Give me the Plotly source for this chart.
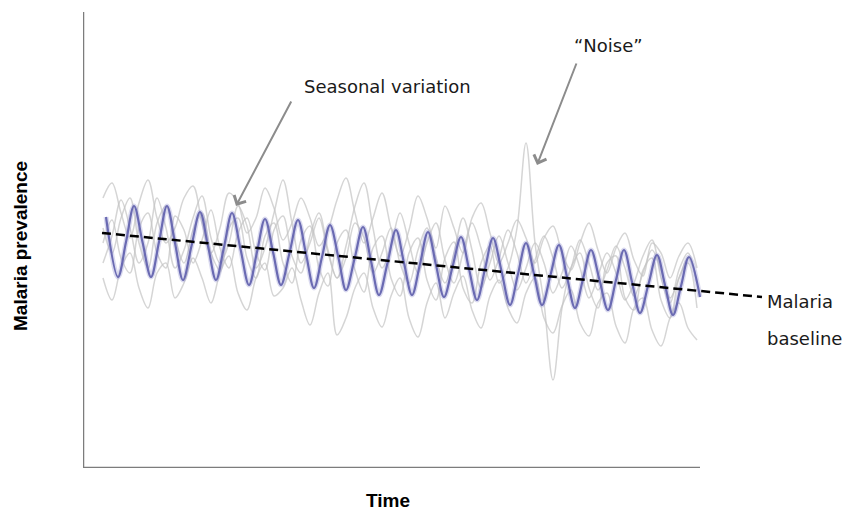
import plotly.graph_objects as go

# ---------------- data (arbitrary units: time, prevalence) ----------------
SEASON_T = [23, 35, 43, 51, 59.5, 68, 76, 84, 92, 100, 108.5, 117, 125, 133, 141, 149,
            157.5, 166, 174, 182, 190, 198, 206.5, 215, 223, 231, 239, 247, 255.5, 263,
            271.5, 280, 288, 296, 304.5, 313, 321, 329, 337, 345, 353, 361, 369.5, 378,
            386, 394, 402, 410, 418.5, 427, 435, 443, 451, 459, 467.5, 476, 484, 492,
            500, 508, 516.5, 525, 533, 541, 549, 557, 565.5, 574, 582, 590, 598, 606, 617]
SEASON_V = [251, 191, 226, 262, 226, 191, 226, 262, 225, 188, 222, 256, 222, 188, 221, 255,
            219, 183, 216, 249, 216, 183, 215, 248, 214, 180, 211, 243, 210, 178,
            209, 241, 207, 173, 205, 238, 205, 173, 204, 236, 203, 171, 201, 231,
            199, 168, 199, 230, 197, 163, 194, 225, 194, 163, 193, 223, 191, 160,
            189, 218, 188, 158, 188, 218, 186, 155, 184, 213, 183, 153, 182, 211, 171]

NOISE_T = [20, 29, 38, 47, 56, 65, 74, 83, 92, 101, 110, 119, 128, 137, 146, 155, 164, 173,
           182, 191, 200, 209, 218, 227, 236, 245, 254, 263, 272, 281, 290, 299, 308, 317,
           326, 335, 344, 353, 362, 371, 380, 389, 398, 407, 416, 425, 434, 443, 452, 461,
           470, 479, 488, 497, 506, 515, 524, 533, 542, 551, 560, 569, 578, 587, 596, 605, 614]
NOISE_A = [240, 215, 250, 270, 225, 200, 245, 262, 230, 205, 238, 255, 215, 198, 240, 250,
           210, 190, 232, 245, 205, 185, 228, 242, 200, 182, 225, 238, 198, 176, 220, 232,
           190, 172, 215, 230, 188, 168, 210, 226, 180, 165, 205, 222, 185, 200, 240, 325,
           225, 165, 88, 160, 200, 215, 180, 160, 205, 212, 170, 158, 198, 210, 168, 150,
           190, 205, 160]
NOISE_B = [270, 285, 255, 230, 265, 288, 250, 225, 240, 270, 282, 245, 215, 240, 275, 265,
           235, 250, 280, 260, 228, 245, 270, 250, 222, 238, 268, 290, 255, 225, 250, 275,
           240, 212, 238, 272, 250, 220, 262, 240, 215, 250, 265, 235, 205, 225, 248, 230,
           205, 230, 242, 215, 198, 225, 245, 218, 195, 220, 235, 208, 192, 225, 215, 190,
           212, 225, 200]
NOISE_C = [190, 168, 200, 215, 180, 160, 195, 205, 170, 185, 210, 190, 165, 195, 212, 175,
           158, 190, 205, 172, 180, 200, 168, 143, 175, 195, 133, 150, 180, 195, 160, 141,
           172, 190, 150, 131, 165, 185, 150, 175, 192, 158, 140, 172, 188, 160, 145, 175,
           190, 150, 135, 162, 178, 145, 132, 165, 175, 142, 125, 160, 170, 138, 122, 150,
           165, 140, 128]
NOISE_D = [225, 248, 210, 195, 240, 255, 215, 200, 252, 238, 205, 228, 258, 220, 200, 235,
           250, 215, 198, 238, 252, 212, 195, 232, 255, 218, 190, 210, 245, 230, 195, 215,
           240, 205, 185, 218, 240, 210, 185, 215, 250, 218, 180, 205, 232, 205, 178, 200,
           225, 205, 175, 195, 222, 200, 170, 192, 215, 195, 168, 185, 212, 228, 190, 165,
           198, 215, 185]
NOISE_E = [205, 232, 268, 240, 205, 225, 270, 240, 200, 218, 250, 272, 230, 205, 225, 262,
           242, 200, 220, 255, 288, 245, 205, 225, 250, 215, 190, 222, 262, 285, 240, 200,
           222, 255, 225, 195, 225, 245, 208, 185, 215, 245, 220, 188, 210, 238, 215, 185,
           208, 232, 210, 180, 200, 228, 205, 178, 198, 222, 200, 172, 195, 218, 198, 170,
           190, 210, 185]
NOISE_SERIES = [NOISE_A, NOISE_B, NOISE_C, NOISE_D, NOISE_E]

BASELINE_T = [19, 679]
BASELINE_V = [235, 171]

X_TITLE = "Time"
Y_TITLE = "Malaria prevalence"
LABEL_SEASON = "Seasonal variation"
LABEL_NOISE = "\u201cNoise\u201d"
LABEL_BASE_1 = "Malaria"
LABEL_BASE_2 = "baseline"

# ---------------- figure ----------------
fig = go.Figure()

for vals in NOISE_SERIES:
    fig.add_trace(go.Scatter(x=NOISE_T, y=vals, mode="lines",
                             line=dict(color="rgba(195,195,195,0.7)", width=1.5, shape="spline"),
                             hoverinfo="skip", showlegend=False))

# soft halo under the seasonal curve
fig.add_trace(go.Scatter(x=SEASON_T, y=SEASON_V, mode="lines",
                         line=dict(color="rgba(150,150,210,0.35)", width=5, shape="spline"),
                         hoverinfo="skip", showlegend=False))
fig.add_trace(go.Scatter(x=SEASON_T, y=SEASON_V, mode="lines",
                         line=dict(color="#6a6ab2", width=2.2, shape="spline"),
                         showlegend=False))

fig.add_trace(go.Scatter(x=BASELINE_T, y=BASELINE_V, mode="lines",
                         line=dict(color="black", width=2.5, dash="9px,5px"),
                         showlegend=False))

axis_col = "#7c7c7c"
fig.add_shape(type="line", xref="x", yref="y", x0=0, x1=0, y0=0, y1=456,
              line=dict(color=axis_col, width=2.5))
fig.add_shape(type="line", xref="x", yref="y", x0=0, x1=617, y0=0, y1=0,
              line=dict(color=axis_col, width=2.5))

ann_font = dict(family="DejaVu Sans", size=18, color="#1a1a1a")
title_font = dict(family="Liberation Sans", size=19, color="black")
arrow_col = "#8c8c8c"

annotations = [
    dict(x=153, y=262, xref="x", yref="y", ax=56, ay=-106, text="",
         showarrow=True, arrowhead=4, arrowsize=1.3, arrowwidth=2, arrowcolor=arrow_col),
    dict(x=454, y=303, xref="x", yref="y", ax=40, ay=-103, text="",
         showarrow=True, arrowhead=4, arrowsize=1.3, arrowwidth=2, arrowcolor=arrow_col),
    dict(x=304, y=382, xref="x", yref="y", text=LABEL_SEASON, showarrow=False,
         font=ann_font, xanchor="center", yanchor="middle"),
    dict(x=525, y=423, xref="x", yref="y", text=LABEL_NOISE, showarrow=False,
         font=ann_font, xanchor="center", yanchor="middle"),
    dict(x=1.0, y=(468 - 301) / 456, xref="paper", yref="paper", text=LABEL_BASE_1,
         showarrow=False, font=ann_font, xanchor="left", yanchor="middle"),
    dict(x=1.0, y=(468 - 338) / 456, xref="paper", yref="paper", text=LABEL_BASE_2,
         showarrow=False, font=ann_font, xanchor="left", yanchor="middle"),
    dict(x=(388 - 83) / 682, y=(468 - 500) / 456, xref="paper", yref="paper",
         text="<b>" + X_TITLE + "</b>", showarrow=False, font=title_font,
         xanchor="center", yanchor="middle"),
    dict(x=(21 - 83) / 682, y=(468 - 246) / 456, xref="paper", yref="paper",
         text="<b>" + Y_TITLE + "</b>", showarrow=False, font=title_font, textangle=-90,
         xanchor="center", yanchor="middle"),
]

fig.update_layout(
    width=843, height=513,
    margin=dict(l=83, r=78, t=12, b=45),
    paper_bgcolor="white", plot_bgcolor="white",
    xaxis=dict(range=[0, 682], visible=False, fixedrange=True),
    yaxis=dict(range=[0, 456], visible=False, fixedrange=True),
    annotations=annotations,
    showlegend=False,
)

fig.write_html("out.html", config={"displayModeBar": False},
               post_script="document.body.style.margin='0px';document.body.style.overflow='hidden';")
